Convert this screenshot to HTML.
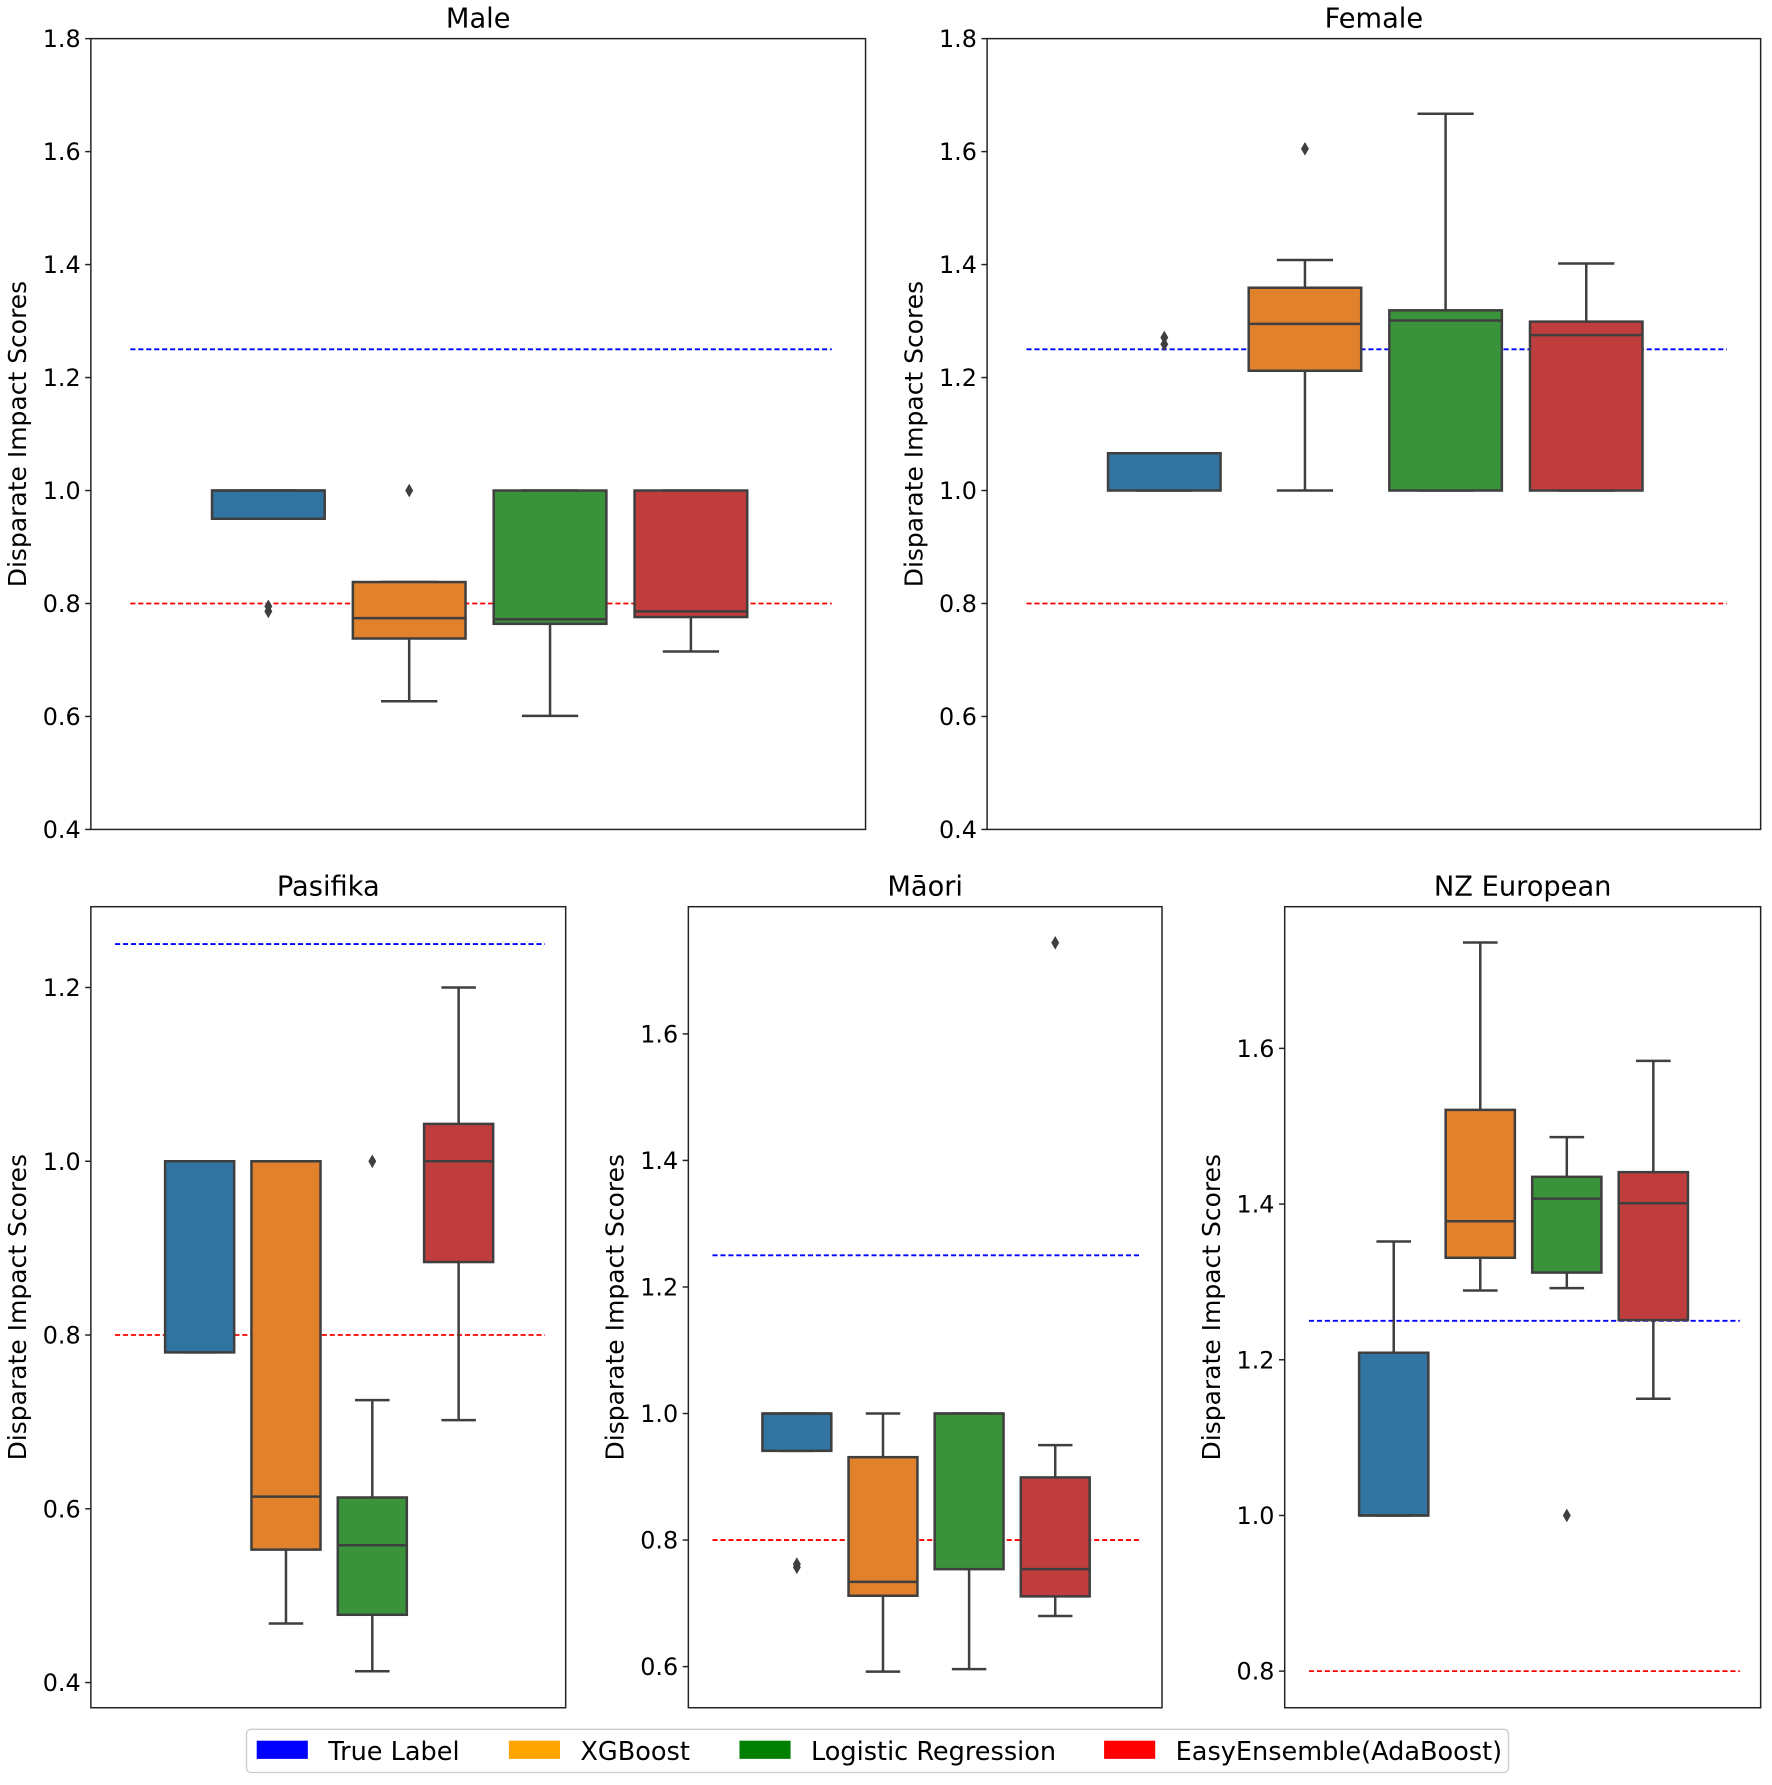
<!DOCTYPE html>
<html><head><meta charset="utf-8"><style>
html,body{margin:0;padding:0;background:#fff}
svg{display:block}
text{font-family:"DejaVu Sans","Liberation Sans",sans-serif;fill:#000}
</style></head><body>
<svg id="fig" width="1772" height="1785" viewBox="0 0 1560 1571" preserveAspectRatio="none" xmlns="http://www.w3.org/2000/svg"></svg>
<script>
const models = ["True Label","XGBoost","Logistic Regression","EasyEnsemble(AdaBoost)"];
const boxColors = ["#3274a1","#e1812c","#3a923a","#c03d3e"];
const legendColors = ["#0000ff","#ffa500","#008000","#ff0000"];
const panelTitles = ["Male","Female","Pasifika","Māori","NZ European"];
// stats per model: [lowWhisker, Q1, median, Q3, highWhisker]
const maleStats = [[0.95,0.95,1.0,1.0,1.0],[0.627,0.738,0.774,0.838,0.838],[0.601,0.764,0.772,1.0,1.0],[0.715,0.776,0.786,1.0,1.0]];
const maleOutliers = [[0.786,0.795],[1.0],[],[]];
const femaleStats = [[1.0,1.0,1.066,1.066,1.066],[1.0,1.212,1.295,1.359,1.408],[1.0,1.0,1.301,1.319,1.667],[1.0,1.0,1.275,1.299,1.402]];
const femaleOutliers = [[1.259,1.271],[1.605],[],[]];
const pasifikaStats = [[0.78,0.78,1.0,1.0,1.0],[0.468,0.553,0.614,1.0,1.0],[0.413,0.478,0.558,0.613,0.725],[0.702,0.884,1.0,1.043,1.2]];
const pasifikaOutliers = [[],[],[1.0],[]];
const maoriStats = [[0.941,0.941,1.0,1.0,1.0],[0.592,0.712,0.734,0.931,1.0],[0.596,0.754,1.0,1.0,1.0],[0.68,0.711,0.754,0.899,0.95]];
const maoriOutliers = [[0.757,0.762],[],[],[1.744]];
const nzStats = [[1.0,1.0,1.0,1.209,1.352],[1.289,1.331,1.378,1.521,1.736],[1.292,1.312,1.407,1.435,1.486],[1.15,1.251,1.401,1.441,1.584]];
const nzOutliers = [[],[],[1.0],[]];
const upperThreshold = 1.25;
const lowerThreshold = 0.8;
const maleTicks = [0.4,0.6,0.8,1.0,1.2,1.4,1.6,1.8];
const pasifikaTicks = [0.4,0.6,0.8,1.0,1.2];
const maoriTicks = [0.6,0.8,1.0,1.2,1.4,1.6];
const nzTicks = [0.8,1.0,1.2,1.4,1.6];

const NS="http://www.w3.org/2000/svg";
const svg=document.getElementById('fig');
function mk(tag,attrs,parent){const e=document.createElementNS(NS,tag);for(const k in attrs)e.setAttribute(k,attrs[k]);(parent||svg).appendChild(e);return e;}

const panels=[
 {name:"male",x0:80,x1:762,y0:34,y1:730,ymin:0.4,ymax:1.8,ticks:maleTicks,stats:maleStats,out:maleOutliers},
 {name:"female",x0:869,x1:1550,y0:34,y1:730,ymin:0.4,ymax:1.8,ticks:maleTicks,stats:femaleStats,out:femaleOutliers},
 {name:"pasifika",x0:80,x1:498,y0:798,y1:1503,ymin:0.371,ymax:1.293,ticks:pasifikaTicks,stats:pasifikaStats,out:pasifikaOutliers},
 {name:"maori",x0:606,x1:1023,y0:798,y1:1503,ymin:0.535,ymax:1.801,ticks:maoriTicks,stats:maoriStats,out:maoriOutliers},
 {name:"nz-european",x0:1131,x1:1550,y0:798,y1:1503,ymin:0.753,ymax:1.782,ticks:nzTicks,stats:nzStats,out:nzOutliers}
];
const xlo=-1.26, xhi=4.24;
panels.forEach((p,pi)=>{
 const g=mk('g',{});
 
 
 const X=v=>p.x0+(v-xlo)/(xhi-xlo)*(p.x1-p.x0);
 const Y=v=>p.y1-(v-p.ymin)/(p.ymax-p.ymin)*(p.y1-p.y0);
 const step=X(1)-X(0), bw=step*0.8;
 [[upperThreshold,'#0000ff','upper-threshold-line'],[lowerThreshold,'#ff0000','lower-threshold-line']].forEach(t=>{
  if(t[0]<p.ymin||t[0]>p.ymax) return;
  const l=mk('line',{x1:X(-0.98),x2:X(4.0),y1:Y(t[0]),y2:Y(t[0]),stroke:t[1],'stroke-width':1.6,'stroke-dasharray':'4.5,2.5'},g);
  
  
 });
 p.stats.forEach((s,i)=>{
  const bg=mk('g',{},g);
  
  
  const cx=X(i), lc='#3f3f3f';
  mk('line',{x1:cx,x2:cx,y1:Y(s[0]),y2:Y(s[1]),stroke:lc,'stroke-width':2.2},bg);
  mk('line',{x1:cx,x2:cx,y1:Y(s[3]),y2:Y(s[4]),stroke:lc,'stroke-width':2.2},bg);
  mk('line',{x1:cx-bw/4,x2:cx+bw/4,y1:Y(s[0]),y2:Y(s[0]),stroke:lc,'stroke-width':2.2},bg);
  mk('line',{x1:cx-bw/4,x2:cx+bw/4,y1:Y(s[4]),y2:Y(s[4]),stroke:lc,'stroke-width':2.2},bg);
  mk('rect',{x:cx-bw/2,y:Y(s[3]),width:bw,height:Math.max(0.5,Y(s[1])-Y(s[3])),fill:boxColors[i],stroke:lc,'stroke-width':2.2},bg);
  mk('line',{x1:cx-bw/2,x2:cx+bw/2,y1:Y(s[2]),y2:Y(s[2]),stroke:lc,'stroke-width':2.2},bg);
  p.out[i].forEach(o=>{
   const d=mk('path',{d:`M${cx},${Y(o)-6} L${cx+3.5},${Y(o)} L${cx},${Y(o)+6} L${cx-3.5},${Y(o)} Z`,fill:lc},bg);
   
   
  });
 });
 const fr=mk('rect',{x:p.x0,y:p.y0,width:p.x1-p.x0,height:p.y1-p.y0,fill:'none',stroke:'#222','stroke-width':1.3},g);
 
 
 p.ticks.forEach(t=>{
  mk('line',{x1:p.x0-5,x2:p.x0,y1:Y(t),y2:Y(t),stroke:'#222','stroke-width':1.3},g);
  const tx=mk('text',{x:p.x0-9,y:Y(t)+7.5,'text-anchor':'end','font-size':21},g);
  tx.textContent=t.toFixed(1);
  
  
 });
 const ty=mk('text',{x:(p.x0+p.x1)/2,y:p.y0-10,'text-anchor':'middle','font-size':24},g);
 ty.textContent=panelTitles[pi];
 
 
 const lx=p.x0-57, ly=(p.y0+p.y1)/2;
 const yl=mk('text',{x:lx,y:ly,'text-anchor':'middle','font-size':22,transform:`rotate(-90 ${lx} ${ly})`},g);
 yl.textContent='Disparate Impact Scores';
 
 
});
const lg=mk('g',{});


mk('rect',{x:217,y:1522,width:1111,height:38,rx:4,fill:'#fff',stroke:'#ccc','stroke-width':1.2},lg);
const lxs=[226,448,651,972];
models.forEach((m,i)=>{
 const e=mk('g',{},lg);
 
 
 mk('rect',{x:lxs[i],y:1532,width:45,height:16,fill:legendColors[i]},e);
 const t=mk('text',{x:lxs[i]+63,y:1549,'font-size':22.5},e);
 t.textContent=m;
});
</script>
</body></html>
